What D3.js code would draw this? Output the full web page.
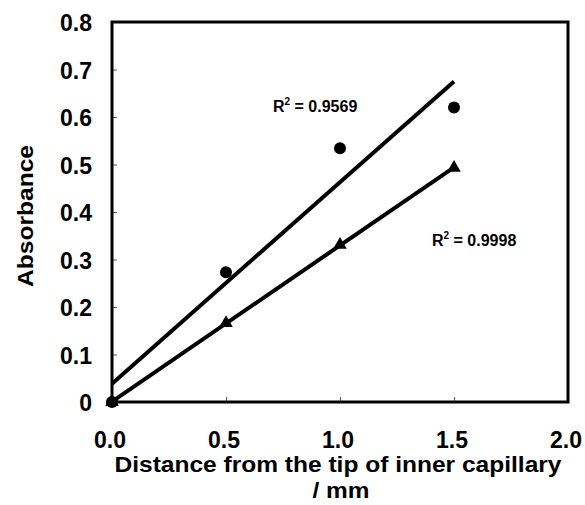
<!DOCTYPE html>
<html>
<head>
<meta charset="utf-8">
<script src="https://cdn.jsdelivr.net/npm/d3@7"></script>
<style>
  body { margin: 0; background: #fff; }
  text { font-family: "Liberation Sans", Arial, sans-serif; font-weight: bold; fill: #000; }
</style>
</head>
<body>
<svg id="chart" width="585" height="505"></svg>
<script>
const distance = [0, 0.5, 1.0, 1.5];
const circleSeries = [0, 0.273, 0.534, 0.62];
const triangleSeries = [0, 0.166, 0.331, 0.493];
const xTicks = [0, 0.5, 1.0, 1.5, 2.0];
const yTicks = [0, 0.1, 0.2, 0.3, 0.4, 0.5, 0.6, 0.7, 0.8];
const r2Labels = ["0.9569", "0.9998"];

const svg = d3.select("#chart");
const x = d3.scaleLinear().domain([0, 2]).range([112, 568]);
const y = d3.scaleLinear().domain([0, 0.8]).range([402, 22]);

// least squares fit, like the spreadsheet trendline
function fit(xs, ys) {
  const mx = d3.mean(xs), my = d3.mean(ys);
  let sxy = 0, sxx = 0;
  xs.forEach((v, i) => { sxy += (v - mx) * (ys[i] - my); sxx += (v - mx) ** 2; });
  const b = sxy / sxx;
  return { a: my - b * mx, b };
}

// ticks (thin, inside)
svg.append("g")
  .attr("transform", `translate(${x(0)},0)`)
  .call(d3.axisRight(y).tickValues(yTicks).tickSize(5).tickFormat(""))
  .call(g => g.select(".domain").remove())
  .call(g => g.selectAll("line").attr("stroke", "#555"));
svg.append("g")
  .attr("transform", `translate(0,${y(0)})`)
  .call(d3.axisTop(x).tickValues(xTicks).tickSize(5).tickFormat(""))
  .call(g => g.select(".domain").remove())
  .call(g => g.selectAll("line").attr("stroke", "#555"));

// frame
svg.append("rect")
  .attr("x", x(0)).attr("y", y(0.8))
  .attr("width", x(2) - x(0)).attr("height", y(0) - y(0.8))
  .attr("fill", "none").attr("stroke", "#000").attr("stroke-width", 3);

// tick labels
svg.append("g").selectAll("text")
  .data(yTicks).join("text")
  .attr("x", 92).attr("y", d => y(d) + 9)
  .attr("text-anchor", "end").attr("font-size", 23)
  .text(d => d === 0 ? "0" : d.toFixed(1));
svg.append("g").selectAll("text")
  .data(xTicks).join("text")
  .attr("x", d => x(d) - 2).attr("y", 448)
  .attr("text-anchor", "middle").attr("font-size", 23)
  .text(d => d.toFixed(1));

// axis titles
svg.append("text")
  .attr("transform", "translate(33,216) rotate(-90)")
  .attr("text-anchor", "middle").attr("font-size", 22)
  .attr("textLength", 142).attr("lengthAdjust", "spacingAndGlyphs")
  .text("Absorbance");
svg.append("text")
  .attr("x", 338).attr("y", 472).attr("text-anchor", "middle").attr("font-size", 22)
  .attr("textLength", 447).attr("lengthAdjust", "spacingAndGlyphs")
  .text("Distance from the tip of inner capillary");
svg.append("text")
  .attr("x", 341).attr("y", 498).attr("text-anchor", "middle").attr("font-size", 22)
  .attr("textLength", 57).attr("lengthAdjust", "spacingAndGlyphs")
  .text("/ mm");

// trendlines
[circleSeries, triangleSeries].forEach(ys => {
  const f = fit(distance, ys);
  svg.append("line")
    .attr("x1", x(0)).attr("y1", y(f.a))
    .attr("x2", x(1.5)).attr("y2", y(f.a + f.b * 1.5))
    .attr("stroke", "#000").attr("stroke-width", 4);
});

// markers
svg.append("g").selectAll("circle")
  .data(distance.map((d, i) => [d, circleSeries[i]])).join("circle")
  .attr("cx", d => x(d[0])).attr("cy", d => y(d[1])).attr("r", 6).attr("fill", "#000");
svg.append("g").selectAll("path")
  .data(distance.map((d, i) => [d, triangleSeries[i]])).join("path")
  .attr("transform", d => `translate(${x(d[0])},${y(d[1])})`)
  .attr("d", d3.symbol(d3.symbolTriangle, 80))
  .attr("fill", "#000");

// R² labels
const r2Pos = [[273, 112], [432, 246]];
r2Labels.forEach((t, i) => {
  const lab = svg.append("text")
    .attr("x", r2Pos[i][0]).attr("y", r2Pos[i][1]).attr("font-size", 16);
  lab.append("tspan").text("R");
  lab.append("tspan").attr("dy", -7).attr("font-size", 10).text("2");
  lab.append("tspan").attr("dy", 7).text(" = " + t);
});
</script>
</body>
</html>
